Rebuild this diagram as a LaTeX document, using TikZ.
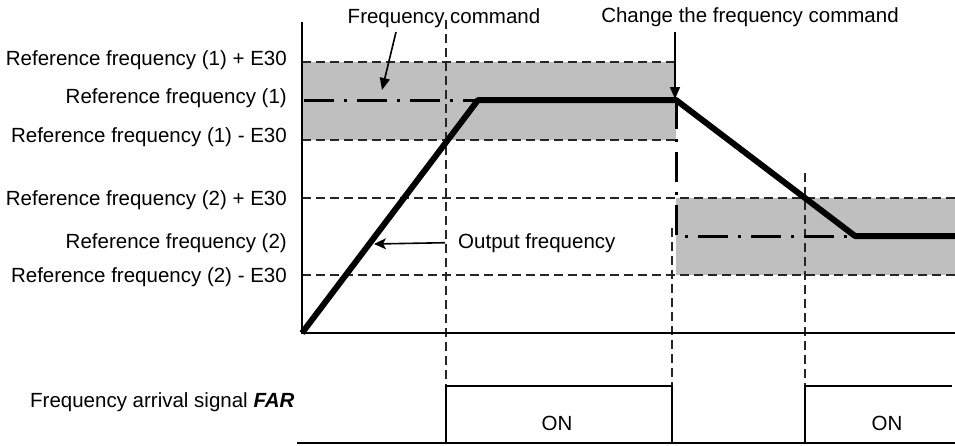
\documentclass[tikz,border=0pt]{standalone}
\usepackage{fontspec}
\setmainfont{Liberation Sans}
\usetikzlibrary{arrows.meta}
\begin{document}
\begin{tikzpicture}[x=1pt,y=-1pt,
  lbl/.style={font=\fontsize{20.5}{24}\selectfont, inner sep=0pt},
  axis/.style={line width=2.2pt},
  guide/.style={line width=1.9pt, dash pattern=on 9pt off 5pt, black!85},
  refl/.style={line width=3pt, dash pattern=on 30pt off 10pt on 3pt off 10pt},
  outf/.style={line width=6pt, line join=round},
  band/.style={fill=black!25},
  sig/.style={line width=1.8pt},
  arr/.style={line width=1.6pt, -{Triangle[length=12pt,width=10pt]}},
  arrs/.style={line width=1.6pt, -{Stealth[length=12pt,width=11pt,inset=3pt]}}
]
\useasboundingbox (0,0) rectangle (955,445);
% tolerance bands
\fill[band] (302,62) rectangle (676,140);
\fill[band] (676,198) rectangle (955,275);
% guide lines
\draw[guide] (302,62) -- (676,62);
\draw[guide] (302,140) -- (676,140);
\draw[guide] (302,198) -- (955,198);
\draw[guide] (302,275) -- (955,275);
\draw[guide] (446,20) -- (446,386);
\draw[guide] (672,228) -- (672,386);
\draw[guide] (805,173) -- (805,386);
% reference frequency
\draw[refl] (304,100) -- (676,100) -- (676,236) -- (855,236);
% axes
\draw[axis] (302,22) -- (302,333) -- (955,333);
\draw[axis] (297,443) -- (955,443);
% output frequency
\draw[outf] (302,333) -- (478,100) -- (676,100) -- (855,236) -- (955,236);
% FAR signal
\draw[sig] (446,443) -- (446,386) -- (672,386) -- (672,443);
\draw[sig] (805,443) -- (805,386) -- (952,386);
% left labels
\node[lbl, anchor=base east] (r1p) at (287,65) {Reference frequency (1) + E30};
\node[lbl, anchor=base east] (r1) at (287,103) {Reference frequency (1)};
\node[lbl, anchor=base east] (r1m) at (287,142) {Reference frequency (1) - E30};
\node[lbl, anchor=base east] (r2p) at (287,205) {Reference frequency (2) + E30};
\node[lbl, anchor=base east] (r2) at (287,248) {Reference frequency (2)};
\node[lbl, anchor=base east] (r2m) at (287,282) {Reference frequency (2) - E30};
\node[lbl, anchor=base west] (far) at (30,407) {Frequency arrival signal \textbf{\textit{FAR}}};
% top labels
\node[lbl, anchor=base] (fc) at (444,23) {Frequency command};
\node[lbl, anchor=base] (cf) at (750,22) {Change the frequency command};
\node[lbl, anchor=base west] (of) at (458,248) {Output frequency};
\node[lbl, anchor=base] (on1) at (557,430) {ON};
\node[lbl, anchor=base] (on2) at (887,430) {ON};
% arrows
\coordinate (fctail) at (396,32);
\coordinate (fctip) at (382,90);
\draw[arr] (fctail) -- (fctip);
\coordinate (cftail) at (675,32);
\coordinate (cftip) at (675,99);
\draw[arr] (cftail) -- (cftip);
\coordinate (oftip) at (374,244);
\draw[arrs] ([xshift=-13pt]of.west) -- (oftip);
\end{tikzpicture}
\end{document}
